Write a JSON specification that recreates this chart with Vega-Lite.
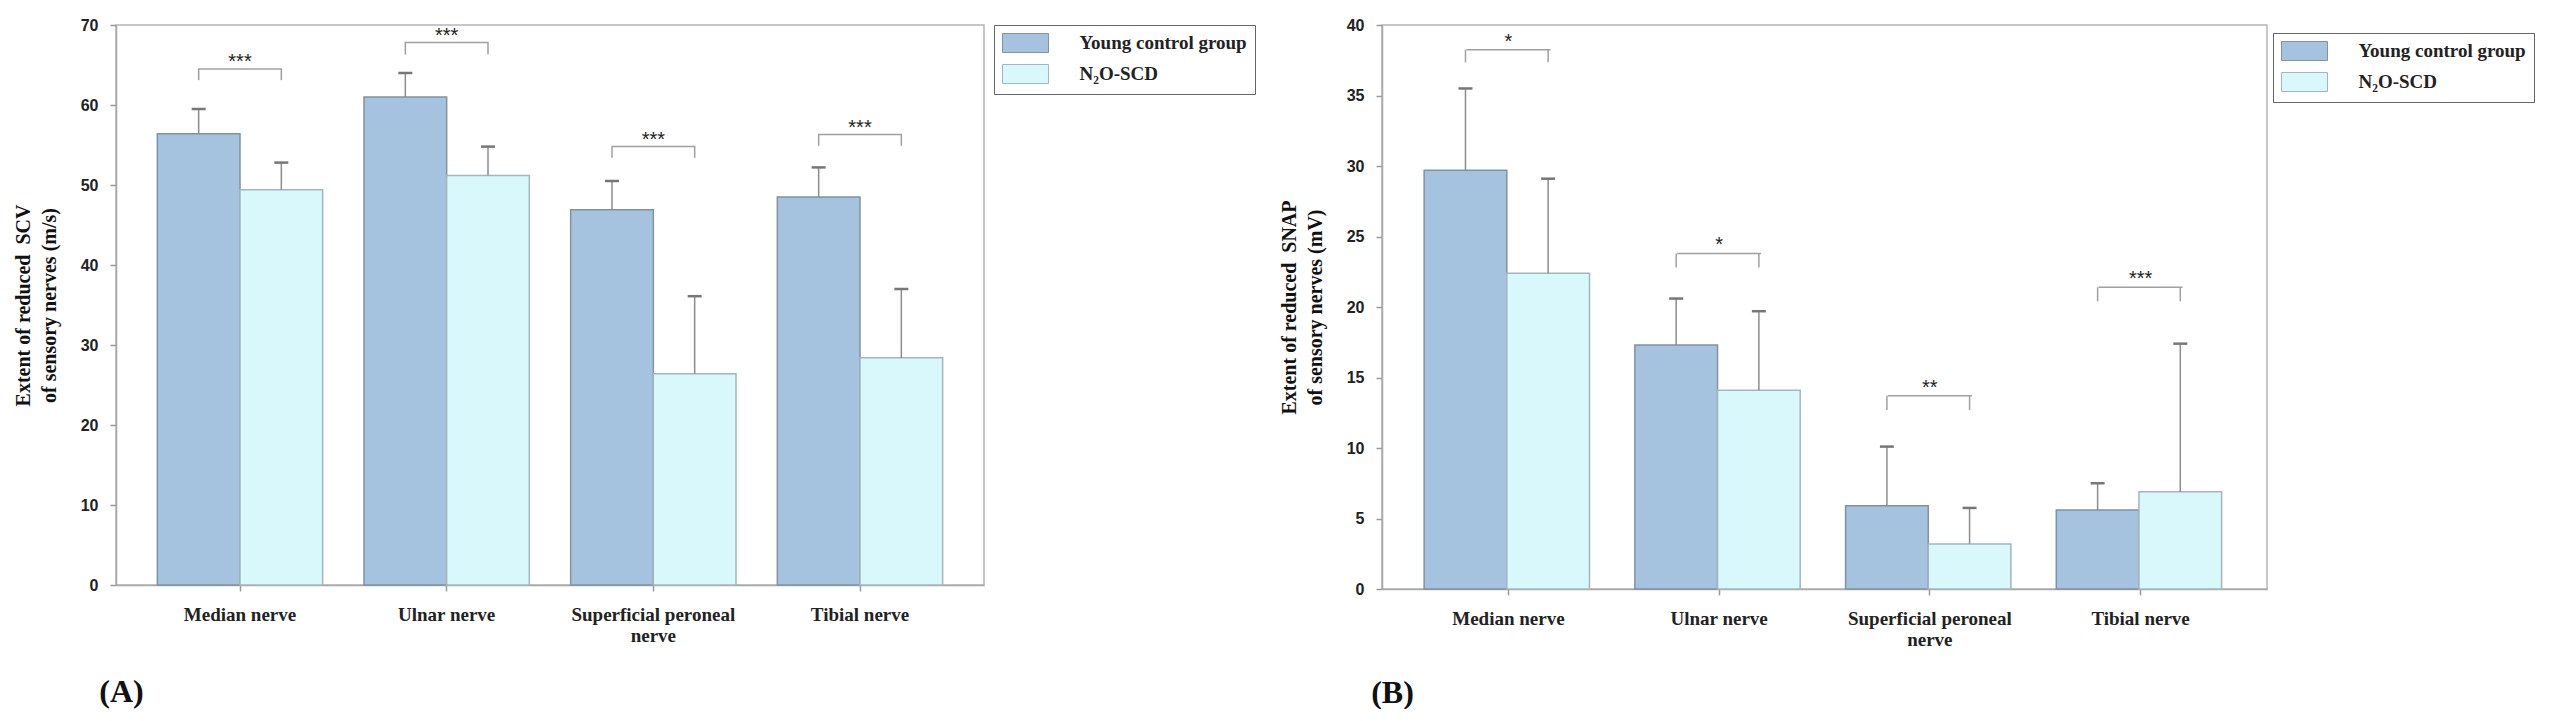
{
  "$schema": "https://vega.github.io/schema/vega-lite/v6.json",
  "background": "white",
  "padding": {"left": 12, "top": 16, "right": 5, "bottom": 0},
  "datasets": {
    "scv": [
      {"nerve": "Median nerve", "group": "Young control group", "mean": 56.4, "upper": 59.5, "bracket_top": 64.5, "bracket_low": 63.1},
      {"nerve": "Median nerve", "group": "N₂O-SCD", "mean": 49.4, "upper": 52.8, "bracket_top": 64.5, "bracket_low": 63.1},
      {"nerve": "Ulnar nerve", "group": "Young control group", "mean": 61.0, "upper": 64.0, "bracket_top": 67.8, "bracket_low": 66.3},
      {"nerve": "Ulnar nerve", "group": "N₂O-SCD", "mean": 51.2, "upper": 54.8, "bracket_top": 67.8, "bracket_low": 66.3},
      {"nerve": "Superficial peroneal nerve", "group": "Young control group", "mean": 46.9, "upper": 50.5, "bracket_top": 54.8, "bracket_low": 53.4},
      {"nerve": "Superficial peroneal nerve", "group": "N₂O-SCD", "mean": 26.4, "upper": 36.1, "bracket_top": 54.8, "bracket_low": 53.4},
      {"nerve": "Tibial nerve", "group": "Young control group", "mean": 48.5, "upper": 52.2, "bracket_top": 56.3, "bracket_low": 54.9},
      {"nerve": "Tibial nerve", "group": "N₂O-SCD", "mean": 28.4, "upper": 37.0, "bracket_top": 56.3, "bracket_low": 54.9}
    ],
    "scv_sig": [
      {"nerve": "Median nerve", "bracket_top": 64.5, "stars": "***"},
      {"nerve": "Ulnar nerve", "bracket_top": 67.8, "stars": "***"},
      {"nerve": "Superficial peroneal nerve", "bracket_top": 54.8, "stars": "***"},
      {"nerve": "Tibial nerve", "bracket_top": 56.3, "stars": "***"}
    ],
    "snap": [
      {"nerve": "Median nerve", "group": "Young control group", "mean": 29.7, "upper": 35.5, "bracket_top": 38.25, "bracket_low": 37.35},
      {"nerve": "Median nerve", "group": "N₂O-SCD", "mean": 22.4, "upper": 29.1, "bracket_top": 38.25, "bracket_low": 37.35},
      {"nerve": "Ulnar nerve", "group": "Young control group", "mean": 17.3, "upper": 20.6, "bracket_top": 23.8, "bracket_low": 22.8},
      {"nerve": "Ulnar nerve", "group": "N₂O-SCD", "mean": 14.1, "upper": 19.7, "bracket_top": 23.8, "bracket_low": 22.8},
      {"nerve": "Superficial peroneal nerve", "group": "Young control group", "mean": 5.9, "upper": 10.1, "bracket_top": 13.7, "bracket_low": 12.7},
      {"nerve": "Superficial peroneal nerve", "group": "N₂O-SCD", "mean": 3.2, "upper": 5.75, "bracket_top": 13.7, "bracket_low": 12.7},
      {"nerve": "Tibial nerve", "group": "Young control group", "mean": 5.6, "upper": 7.5, "bracket_top": 21.4, "bracket_low": 20.4},
      {"nerve": "Tibial nerve", "group": "N₂O-SCD", "mean": 6.9, "upper": 17.4, "bracket_top": 21.4, "bracket_low": 20.4}
    ],
    "snap_sig": [
      {"nerve": "Median nerve", "bracket_top": 38.25, "stars": "*"},
      {"nerve": "Ulnar nerve", "bracket_top": 23.8, "stars": "*"},
      {"nerve": "Superficial peroneal nerve", "bracket_top": 13.7, "stars": "**"},
      {"nerve": "Tibial nerve", "bracket_top": 21.4, "stars": "***"}
    ]
  },
  "align": "none",
  "spacing": 21,
  "resolve": {"scale": {"color": "independent", "stroke": "independent"}, "legend": {"color": "independent"}},
  "hconcat": [
    {
      "width": 868,
      "height": 560,
      "encoding": {
        "x": {
          "field": "nerve",
          "type": "nominal",
          "sort": ["Median nerve", "Ulnar nerve", "Superficial peroneal nerve", "Tibial nerve"],
          "scale": {"paddingInner": 0.2, "paddingOuter": 0.2},
          "axis": {
            "title": "(A)",
            "titleX": 5,
            "titleY": 106,
            "labelExpr": "datum.value == 'Superficial peroneal nerve' ? ['Superficial peroneal', 'nerve'] : datum.value"
          }
        }
      },
      "layer": [
        {
          "data": {"name": "scv"},
          "mark": {"type": "bar", "strokeWidth": 1.5},
          "encoding": {
            "xOffset": {"field": "group", "sort": ["Young control group", "N₂O-SCD"]},
            "y": {
              "field": "mean",
              "type": "quantitative",
              "scale": {"domain": [0, 70], "nice": false},
              "axis": {
                "values": [0, 10, 20, 30, 40, 50, 60, 70],
                "title": ["Extent of reduced\u00a0 SCV", "of sensory nerves (m/s)"],
                "titleY": 280
              }
            },
            "color": {
              "field": "group",
              "type": "nominal",
              "sort": ["Young control group", "N₂O-SCD"],
              "scale": {"domain": ["Young control group", "N₂O-SCD"], "range": ["#a5c3de", "#d9f8fc"]},
              "legend": {"title": null, "legendX": 878, "legendY": 0}
            },
            "stroke": {
              "field": "group",
              "type": "nominal",
              "scale": {"domain": ["Young control group", "N₂O-SCD"], "range": ["#7f93a3", "#a3b6bb"]},
              "legend": null
            }
          }
        },
        {
          "data": {"name": "scv"},
          "mark": {"type": "rule", "color": "#8c8c8c", "strokeWidth": 1.5},
          "encoding": {
            "xOffset": {"field": "group", "sort": ["Young control group", "N₂O-SCD"]},
            "y": {"field": "mean", "type": "quantitative", "scale": {"domain": [0, 70], "nice": false}},
            "y2": {"field": "upper"}
          }
        },
        {
          "data": {"name": "scv"},
          "mark": {"type": "tick", "orient": "horizontal", "size": 14, "thickness": 2.5, "color": "#777777", "opacity": 1},
          "encoding": {
            "xOffset": {"field": "group", "sort": ["Young control group", "N₂O-SCD"]},
            "y": {"field": "upper", "type": "quantitative", "scale": {"domain": [0, 70], "nice": false}}
          }
        },
        {
          "data": {"name": "scv"},
          "mark": {"type": "rule", "color": "#a0a0a0", "strokeWidth": 1.5},
          "encoding": {
            "xOffset": {"field": "group", "sort": ["Young control group", "N₂O-SCD"]},
            "y": {"field": "bracket_low", "type": "quantitative", "scale": {"domain": [0, 70], "nice": false}},
            "y2": {"field": "bracket_top"}
          }
        },
        {
          "data": {"name": "scv_sig"},
          "mark": {"type": "tick", "orient": "horizontal", "size": 84, "thickness": 1.5, "color": "#a0a0a0", "opacity": 1},
          "encoding": {
            "y": {"field": "bracket_top", "type": "quantitative", "scale": {"domain": [0, 70], "nice": false}}
          }
        },
        {
          "data": {"name": "scv_sig"},
          "mark": {"type": "text", "font": "Liberation Sans", "fontSize": 20, "color": "#222222", "baseline": "alphabetic", "dy": -1},
          "encoding": {
            "y": {"field": "bracket_top", "type": "quantitative", "scale": {"domain": [0, 70], "nice": false}},
            "text": {"field": "stars"}
          }
        }
      ]
    },
    {
      "width": 885,
      "height": 564,
      "encoding": {
        "x": {
          "field": "nerve",
          "type": "nominal",
          "sort": ["Median nerve", "Ulnar nerve", "Superficial peroneal nerve", "Tibial nerve"],
          "scale": {"paddingInner": 0.2, "paddingOuter": 0.2},
          "axis": {
            "title": "(B)",
            "titleX": 10,
            "titleY": 103,
            "labelExpr": "datum.value == 'Superficial peroneal nerve' ? ['Superficial peroneal', 'nerve'] : datum.value"
          }
        }
      },
      "layer": [
        {
          "data": {"name": "snap"},
          "mark": {"type": "bar", "strokeWidth": 1.5},
          "encoding": {
            "xOffset": {"field": "group", "sort": ["Young control group", "N₂O-SCD"]},
            "y": {
              "field": "mean",
              "type": "quantitative",
              "scale": {"domain": [0, 40], "nice": false},
              "axis": {
                "values": [0, 5, 10, 15, 20, 25, 30, 35, 40],
                "title": ["Extent of reduced\u00a0 SNAP", "of sensory nerves (mV)"],
                "titleY": 282
              }
            },
            "color": {
              "field": "group",
              "type": "nominal",
              "sort": ["Young control group", "N₂O-SCD"],
              "scale": {"domain": ["Young control group", "N₂O-SCD"], "range": ["#a5c3de", "#d9f8fc"]},
              "legend": {"title": null, "legendX": 891, "legendY": 8}
            },
            "stroke": {
              "field": "group",
              "type": "nominal",
              "scale": {"domain": ["Young control group", "N₂O-SCD"], "range": ["#7f93a3", "#a3b6bb"]},
              "legend": null
            }
          }
        },
        {
          "data": {"name": "snap"},
          "mark": {"type": "rule", "color": "#8c8c8c", "strokeWidth": 1.5},
          "encoding": {
            "xOffset": {"field": "group", "sort": ["Young control group", "N₂O-SCD"]},
            "y": {"field": "mean", "type": "quantitative", "scale": {"domain": [0, 40], "nice": false}},
            "y2": {"field": "upper"}
          }
        },
        {
          "data": {"name": "snap"},
          "mark": {"type": "tick", "orient": "horizontal", "size": 14, "thickness": 2.5, "color": "#777777", "opacity": 1},
          "encoding": {
            "xOffset": {"field": "group", "sort": ["Young control group", "N₂O-SCD"]},
            "y": {"field": "upper", "type": "quantitative", "scale": {"domain": [0, 40], "nice": false}}
          }
        },
        {
          "data": {"name": "snap"},
          "mark": {"type": "rule", "color": "#a0a0a0", "strokeWidth": 1.5},
          "encoding": {
            "xOffset": {"field": "group", "sort": ["Young control group", "N₂O-SCD"]},
            "y": {"field": "bracket_low", "type": "quantitative", "scale": {"domain": [0, 40], "nice": false}},
            "y2": {"field": "bracket_top"}
          }
        },
        {
          "data": {"name": "snap_sig"},
          "mark": {"type": "tick", "orient": "horizontal", "size": 84, "thickness": 1.5, "color": "#a0a0a0", "opacity": 1},
          "encoding": {
            "y": {"field": "bracket_top", "type": "quantitative", "scale": {"domain": [0, 40], "nice": false}}
          }
        },
        {
          "data": {"name": "snap_sig"},
          "mark": {"type": "text", "font": "Liberation Sans", "fontSize": 20, "color": "#222222", "baseline": "alphabetic", "dy": -2},
          "encoding": {
            "y": {"field": "bracket_top", "type": "quantitative", "scale": {"domain": [0, 40], "nice": false}},
            "text": {"field": "stars"}
          }
        }
      ]
    }
  ],
  "config": {
    "view": {"stroke": "#b5b5b5", "strokeWidth": 1.5},
    "axis": {
      "grid": false,
      "domainColor": "#a8a8a8",
      "domainWidth": 1.5,
      "tickColor": "#9a9a9a",
      "tickWidth": 1.5,
      "tickSize": 6,
      "labelColor": "#222222",
      "titleColor": "#111111"
    },
    "axisY": {
      "labelFont": "Liberation Sans",
      "labelFontSize": 16,
      "labelFontWeight": "bold",
      "labelPadding": 12,
      "titleFont": "Liberation Serif",
      "titleFontSize": 20,
      "titleFontWeight": "bold",
      "titleLineHeight": 26,
      "titleBaseline": "middle",
      "titleX": -93
    },
    "axisX": {
      "labelFont": "Liberation Serif",
      "labelFontSize": 19,
      "labelFontWeight": "bold",
      "labelAngle": 0,
      "labelPadding": 14,
      "labelLineHeight": 21,
      "labelLimit": 400,
      "titleFont": "Liberation Serif",
      "titleFontSize": 32,
      "titleFontWeight": "bold",
      "titleBaseline": "middle",
      "titleAlign": "center"
    },
    "legend": {
      "orient": "none",
      "labelFont": "Liberation Serif",
      "labelFontSize": 19,
      "labelFontWeight": "bold",
      "labelColor": "#222222",
      "labelLimit": 400,
      "symbolType": "M-2.42,-1L2.42,-1L2.42,1L-2.42,1Z",
      "symbolSize": 361,
      "symbolOffset": 13.5,
      "symbolStrokeWidth": 1,
      "labelOffset": 44,
      "rowPadding": 7,
      "padding": 8,
      "strokeColor": "#666666"
    }
  }
}
